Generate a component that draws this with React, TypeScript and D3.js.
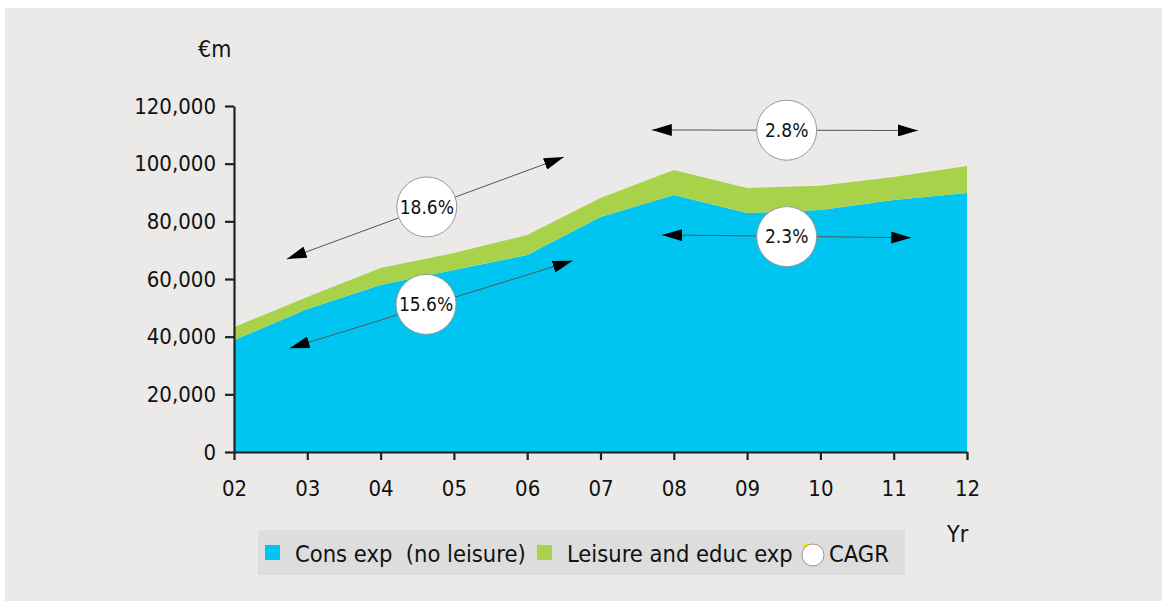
import React, { useRef, useEffect } from 'react';
import * as d3 from 'd3';

const years = [2, 3, 4, 5, 6, 7, 8, 9, 10, 11, 12];
const yearLabels = ['02', '03', '04', '05', '06', '07', '08', '09', '10', '11', '12'];
const consExp = [38800, 49600, 57900, 63100, 68300, 81500, 89100, 82900, 83900, 87400, 89800];
const leisureExp = [4500, 4200, 5900, 5900, 7000, 6600, 8700, 8700, 8400, 8000, 9400];
const yTicks = [0, 20000, 40000, 60000, 80000, 100000, 120000];

// CAGR annotations: arrow from (x0,y0) to (x1,y1), circle at (cx,cy), in data units
const cagrLabels = ['18.6%', '15.6%', '2.8%', '2.3%'];
const cagrArrows = [
    [2.72, 66900, 6.5, 102300],
    [2.76, 36000, 6.62, 66300],
    [7.7, 111700, 11.33, 111500],
    [7.84, 75300, 11.24, 74300],
];
const cagrCircles = [
    [4.63, 85000],
    [4.62, 51200],
    [9.54, 111600],
    [9.54, 74700],
];

const W = 1162;
const H = 601;
const FONT = '"DejaVu Sans Condensed", "DejaVu Sans", sans-serif';
const BLUE = '#00c5f1';
const GREEN = '#a9d24b';

const CagrChart = () => {
    const svgRef = useRef<SVGSVGElement | null>(null);

    useEffect(() => {
        const svg = d3.select(svgRef.current);
        svg.selectAll('*').remove();

        const margin = { top: 106, right: 195, bottom: 149, left: 234 };

        svg.append('rect').attr('x', 5).attr('y', 8).attr('width', W - 5).attr('height', H - 8).attr('fill', '#ebeae8');

        const x = d3.scaleLinear().domain([2, 12]).range([margin.left, W - margin.right]);
        const y = d3.scaleLinear().domain([0, 120000]).range([H - margin.bottom, margin.top]);

        const rows = years.map((yr, i) => ({ yr, cons: consExp[i], leisure: leisureExp[i] }));
        const stacked = d3.stack<any>().keys(['cons', 'leisure'])(rows);

        const area = d3
            .area<any>()
            .x((d) => x(d.data.yr))
            .y0((d) => y(d[0]))
            .y1((d) => y(d[1]));

        svg
            .append('g')
            .selectAll('path')
            .data(stacked)
            .join('path')
            .attr('fill', (d, i) => (i === 0 ? BLUE : GREEN))
            .attr('d', area as any);

        // axes
        const yAxis = svg
            .append('g')
            .attr('transform', `translate(${margin.left},0)`)
            .call(d3.axisLeft(y).tickValues(yTicks).tickSize(9).tickSizeOuter(0).tickPadding(9).tickFormat(d3.format(',')));
        const xAxis = svg
            .append('g')
            .attr('transform', `translate(0,${y(0)})`)
            .call(
                d3
                    .axisBottom(x)
                    .tickValues(years)
                    .tickSize(8)
                    .tickSizeOuter(0)
                    .tickPadding(20)
                    .tickFormat((d, i) => yearLabels[i])
            );
        [yAxis, xAxis].forEach((g) => {
            g.selectAll('path, line').attr('stroke', '#222').attr('stroke-width', 2.2);
            g.selectAll('text').attr('font-family', FONT).attr('font-size', 22).attr('fill', '#111');
        });

        svg.append('text').attr('x', 198).attr('y', 57).attr('font-family', FONT).attr('font-size', 23).attr('fill', '#111').text('€m');
        svg.append('text').attr('x', 947).attr('y', 542).attr('font-family', FONT).attr('font-size', 23).attr('fill', '#111').text('Yr');

        // arrowheads
        const defs = svg.append('defs');
        defs
            .append('marker')
            .attr('id', 'arrowhead')
            .attr('viewBox', '0 0 20 12')
            .attr('refX', 20)
            .attr('refY', 6)
            .attr('markerWidth', 20)
            .attr('markerHeight', 12)
            .attr('markerUnits', 'userSpaceOnUse')
            .attr('orient', 'auto-start-reverse')
            .append('path')
            .attr('d', 'M0,0 L20,6 L0,12 Z')
            .attr('fill', '#000');

        const ann = svg.append('g');
        ann
            .selectAll('line')
            .data(cagrArrows)
            .join('line')
            .attr('x1', (d) => x(d[0]))
            .attr('y1', (d) => y(d[1]))
            .attr('x2', (d) => x(d[2]))
            .attr('y2', (d) => y(d[3]))
            .attr('stroke', '#555')
            .attr('stroke-width', 1)
            .attr('marker-start', 'url(#arrowhead)')
            .attr('marker-end', 'url(#arrowhead)');

        const circ = ann
            .selectAll('g.cagr')
            .data(cagrCircles)
            .join('g')
            .attr('class', 'cagr')
            .attr('transform', (d) => `translate(${x(d[0])},${y(d[1])})`);
        circ.append('circle').attr('r', 30).attr('fill', '#fff').attr('stroke', '#999').attr('stroke-width', 1);
        circ
            .append('text')
            .attr('text-anchor', 'middle')
            .attr('dy', '0.36em')
            .attr('font-family', FONT)
            .attr('font-size', 19)
            .attr('fill', '#111')
            .text((d, i) => cagrLabels[i]);

        // legend
        const leg = svg.append('g');
        leg.append('rect').attr('x', 258).attr('y', 530).attr('width', 647).attr('height', 45).attr('fill', '#dddddd');
        leg.append('rect').attr('x', 265).attr('y', 545).attr('width', 15).attr('height', 15).attr('fill', BLUE);
        leg.append('text').attr('x', 295).attr('y', 562).attr('font-family', FONT).attr('font-size', 23.5).attr('fill', '#111').attr('xml:space', 'preserve').text('Cons exp  (no leisure)');
        leg.append('rect').attr('x', 537).attr('y', 545).attr('width', 15).attr('height', 15).attr('fill', GREEN);
        leg.append('text').attr('x', 567).attr('y', 562).attr('font-family', FONT).attr('font-size', 23.5).attr('fill', '#111').text('Leisure and educ exp');
        leg.append('rect').attr('x', 803).attr('y', 544).attr('width', 13).attr('height', 6).attr('fill', '#f5e400');
        leg.append('circle').attr('cx', 813).attr('cy', 555).attr('r', 11).attr('fill', '#fff').attr('stroke', '#999');
        leg.append('text').attr('x', 829).attr('y', 562).attr('font-family', FONT).attr('font-size', 23.5).attr('fill', '#111').text('CAGR');
    }, []);

    return <svg ref={svgRef} width={W} height={H} style={{ position: 'absolute', left: 0, top: 0 }}></svg>;
};

export default function App() {
    return <CagrChart />;
}
